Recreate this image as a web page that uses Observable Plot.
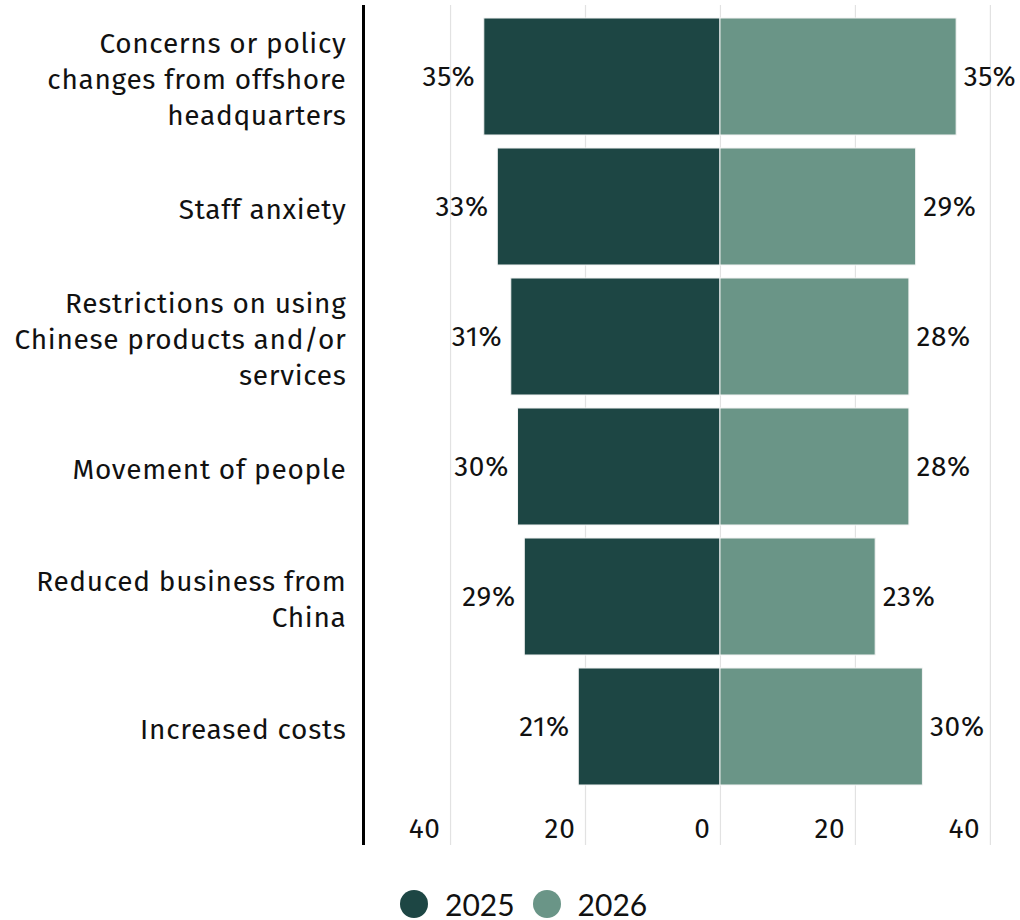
<!DOCTYPE html>
<html>
<head>
<meta charset="utf-8">
<script src="https://cdn.jsdelivr.net/npm/d3@7"></script>
<script src="https://cdn.jsdelivr.net/npm/@observablehq/plot@0.6"></script>
<style>
  html, body { margin: 0; padding: 0; background: #fff; }
  body { width: 1020px; height: 920px; position: relative; overflow: hidden; font-family: "Noto Sans", sans-serif; color: #111; }
  #chart svg text { letter-spacing: 0.7px; }
  #legend { position: absolute; left: 400px; top: 890px; height: 28px; line-height: 28px; display: flex; align-items: center; font-family: Lato, "Noto Sans", sans-serif; font-size: 30px; color: #111; }
  .item { display: flex; align-items: center; height: 28px; }
  .item span.t { display: inline-block; line-height: 28px; height: 28px; }
  .sw { width: 28px; height: 28px; border-radius: 50%; display: inline-block; margin-right: 17px; }
  .item + .item { margin-left: 18px; }
</style>
</head>
<body>
<div id="chart"></div>
<div id="legend"></div>
<script>
const categories = [
  "Concerns or policy changes from offshore headquarters",
  "Staff anxiety",
  "Restrictions on using Chinese products and/or services",
  "Movement of people",
  "Reduced business from China",
  "Increased costs"
];
const categoryLabels = [
  "Concerns or policy\nchanges from offshore\nheadquarters",
  "Staff anxiety",
  "Restrictions on using\nChinese products and/or\nservices",
  "Movement of people",
  "Reduced business from\nChina",
  "Increased costs"
];
const years = ["2025", "2026"];
const values2025 = [35, 33, 31, 30, 29, 21];
const values2026 = [35, 29, 28, 28, 23, 30];
const xTicks = [-40, -20, 0, 20, 40];
const colors = ["#1d4644", "#6a9587"];

const rows = [];
categories.forEach((c, i) => {
  rows.push({category: c, year: years[0], value: values2025[i], signed: -values2025[i]});
  rows.push({category: c, year: years[1], value: values2026[i], signed: values2026[i]});
});

const xMin = -52.9, xMax = 41.5;
const font = "'Fira Sans', 'Noto Sans', sans-serif";

const chart = Plot.plot({
  width: 1020,
  height: 860,
  marginLeft: 363,
  marginRight: 20,
  marginTop: 5,
  marginBottom: 15,
  style: {fontFamily: font, fontSize: "28px", color: "#111", background: "#fff"},
  x: {domain: [xMin, xMax], axis: null},
  y: {domain: categories, range: [18, 785], paddingInner: 0.1, paddingOuter: 0, axis: null},
  color: {domain: years, range: colors},
  marks: [
    Plot.ruleX(xTicks, {stroke: "#e2e2e2", strokeWidth: 1.2}),
    Plot.barX(rows, {x1: 0, x2: "signed", y: "category", fill: "year", stroke: "#f4f4f4", strokeWidth: 1}),
    Plot.text(rows.filter(d => d.year === years[0]), {x: "signed", y: "category", text: d => d.value + "%", textAnchor: "end", dx: -9, fill: "#111"}),
    Plot.text(rows.filter(d => d.year === years[1]), {x: "signed", y: "category", text: d => d.value + "%", textAnchor: "start", dx: 7, fill: "#111"}),
    Plot.text(xTicks, {x: d => d, text: d => String(Math.abs(d)), frameAnchor: "bottom", lineAnchor: "middle", textAnchor: "end", dx: -10, dy: -16, fill: "#111"}),
    Plot.text(categories, {x: xMin, y: d => d, text: (d, i) => categoryLabels[i], textAnchor: "end", dx: -17, lineHeight: 1.286, fill: "#111"}),
    Plot.ruleX([xMin], {stroke: "#000", strokeWidth: 3})
  ]
});
document.getElementById("chart").appendChild(chart);

const legend = document.getElementById("legend");
years.forEach((y, i) => {
  const it = document.createElement("div");
  it.className = "item";
  const sw = document.createElement("span");
  sw.className = "sw";
  sw.style.background = colors[i];
  const t = document.createElement("span");
  t.className = "t";
  t.textContent = y;
  it.appendChild(sw);
  it.appendChild(t);
  legend.appendChild(it);
});
</script>
</body>
</html>
